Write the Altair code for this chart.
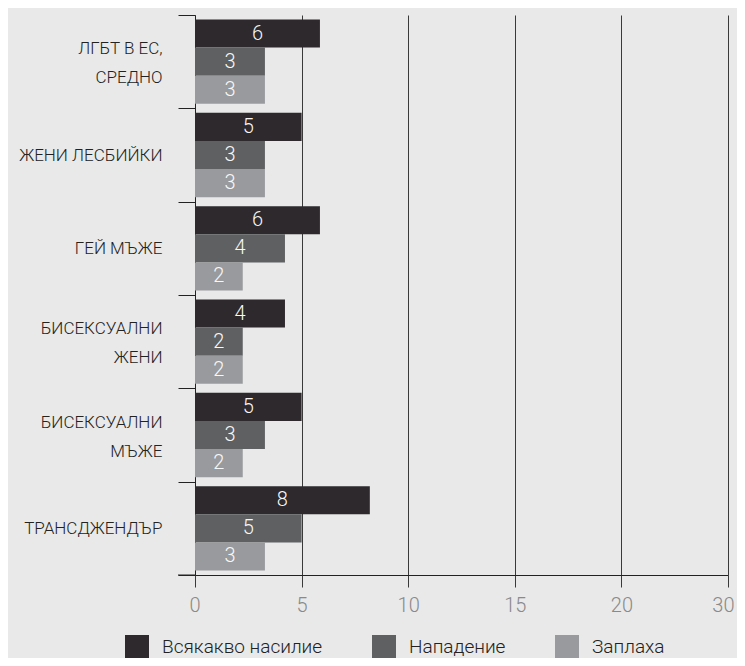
import altair as alt
import pandas as pd

categories = ["ЛГБТ в ЕС, средно", "Жени лесбийки", "Гей мъже",
              "Бисексуални жени", "Бисексуални мъже", "Трансджендър"]
series = ["Всякакво насилие", "Нападение", "Заплаха"]
values_any = [5.86, 5.0, 5.86, 4.22, 5.0, 8.2]
values_assault = [3.28, 3.28, 4.22, 2.24, 3.28, 5.0]
values_threat = [3.28, 3.28, 2.24, 2.24, 2.24, 3.28]
tick_values = [0, 5, 10, 15, 20, 25]
tick_labels = ["0", "5", "10", "15", "20", "30"]
label_lines = {
    "ЛГБТ в ЕС, средно": ["ЛГБТ в ЕС,", "средно"],
    "Бисексуални жени": ["Бисексуални", "жени"],
    "Бисексуални мъже": ["Бисексуални", "мъже"],
}
colors = ["#2d292c", "#5f6062", "#999a9d"]

FONT = "Roboto"

rows = []
for vals, s in zip([values_any, values_assault, values_threat], series):
    for c, v in zip(categories, vals):
        rows.append({"category": c, "series": s, "value": v})
df = pd.DataFrame(rows)

# label expression: multi-line, upper-case (small caps look)
expr = "upper(datum.label)"
for k, lines in label_lines.items():
    arr = "[" + ", ".join("upper('%s')" % l for l in lines) + "]"
    expr = "datum.label == '%s' ? %s : (%s)" % (k, arr, expr)
multi_test = "indexof([%s], datum.label) >= 0" % ", ".join("'%s'" % k for k in label_lines)

xlab = "[%s][indexof([%s], datum.value)]" % (
    ", ".join("'%s'" % t for t in tick_labels),
    ", ".join(str(v) for v in tick_values))

x_axis = alt.Axis(values=tick_values, labelExpr=xlab, title=None, grid=True,
                  gridColor="#3a3a3a", gridWidth=1, tickSize=12, tickColor="#3a3a3a",
                  domainColor="#222", labelFontSize=20, labelColor="#8a8a8a",
                  labelFont=FONT, labelFontWeight=300, labelPadding=8,
                  labelFlush=True, labelFlushOffset=6)
x_scale = alt.Scale(domain=[0, 25], nice=False)

y_enc = alt.Y("category:N", sort=categories,
              scale=alt.Scale(paddingInner=0, paddingOuter=0),
              axis=alt.Axis(title=None, tickBand="extent", tickSize=17, tickColor="#222",
                            domainColor="#222", labelExpr=expr, labelFontSize=17,
                            labelLineHeight=29, labelPadding=16, labelColor="#222",
                            labelOffset={"condition": {"test": multi_test, "value": -13},
                                         "value": 0},
                            labelFont=FONT, labelFontWeight=300, labelLimit=250))
yoff = alt.YOffset("series:N", sort=series,
                   scale=alt.Scale(paddingOuter=0.16, paddingInner=0))

bars = alt.Chart(df).mark_bar().encode(
    y=y_enc,
    yOffset=yoff,
    x=alt.X("value:Q", scale=x_scale, axis=x_axis),
    color=alt.Color("series:N", sort=series,
                    scale=alt.Scale(domain=series, range=colors),
                    legend=alt.Legend(title=None, orient="none", legendX=-70, legendY=620,
                                      direction="horizontal", columns=3, columnPadding=49,
                                      symbolType="square", symbolSize=576,
                                      symbolStrokeWidth=0, labelFontSize=19,
                                      labelOffset=13, labelColor="#222", labelFont=FONT,
                                      labelFontWeight=300, labelLimit=300)),
)

text = alt.Chart(df).transform_calculate(mid="datum.value / 2").mark_text(
    color="#f7f7f7", fontSize=20, font=FONT, fontWeight=300, baseline="middle"
).encode(
    y=y_enc,
    yOffset=yoff,
    x=alt.X("mid:Q", scale=x_scale, axis=x_axis),
    text=alt.Text("value:Q", format=".0f"),
)

rule = alt.Chart(pd.DataFrame({"a": [0]})).mark_rule(color="#222").encode(
    x=alt.value(-17), x2=alt.value(0), y=alt.value(560))

chart = alt.layer(bars, text, rule).properties(
    width=533, height=560,
    autosize=alt.AutoSizeParams(type="none"),
    padding={"left": 187, "top": 7, "right": 9, "bottom": 83},
    background="#e9e9e9",
).configure_view(stroke=None)

chart.save("out.html", embed_options={"renderer": "svg", "actions": False})
